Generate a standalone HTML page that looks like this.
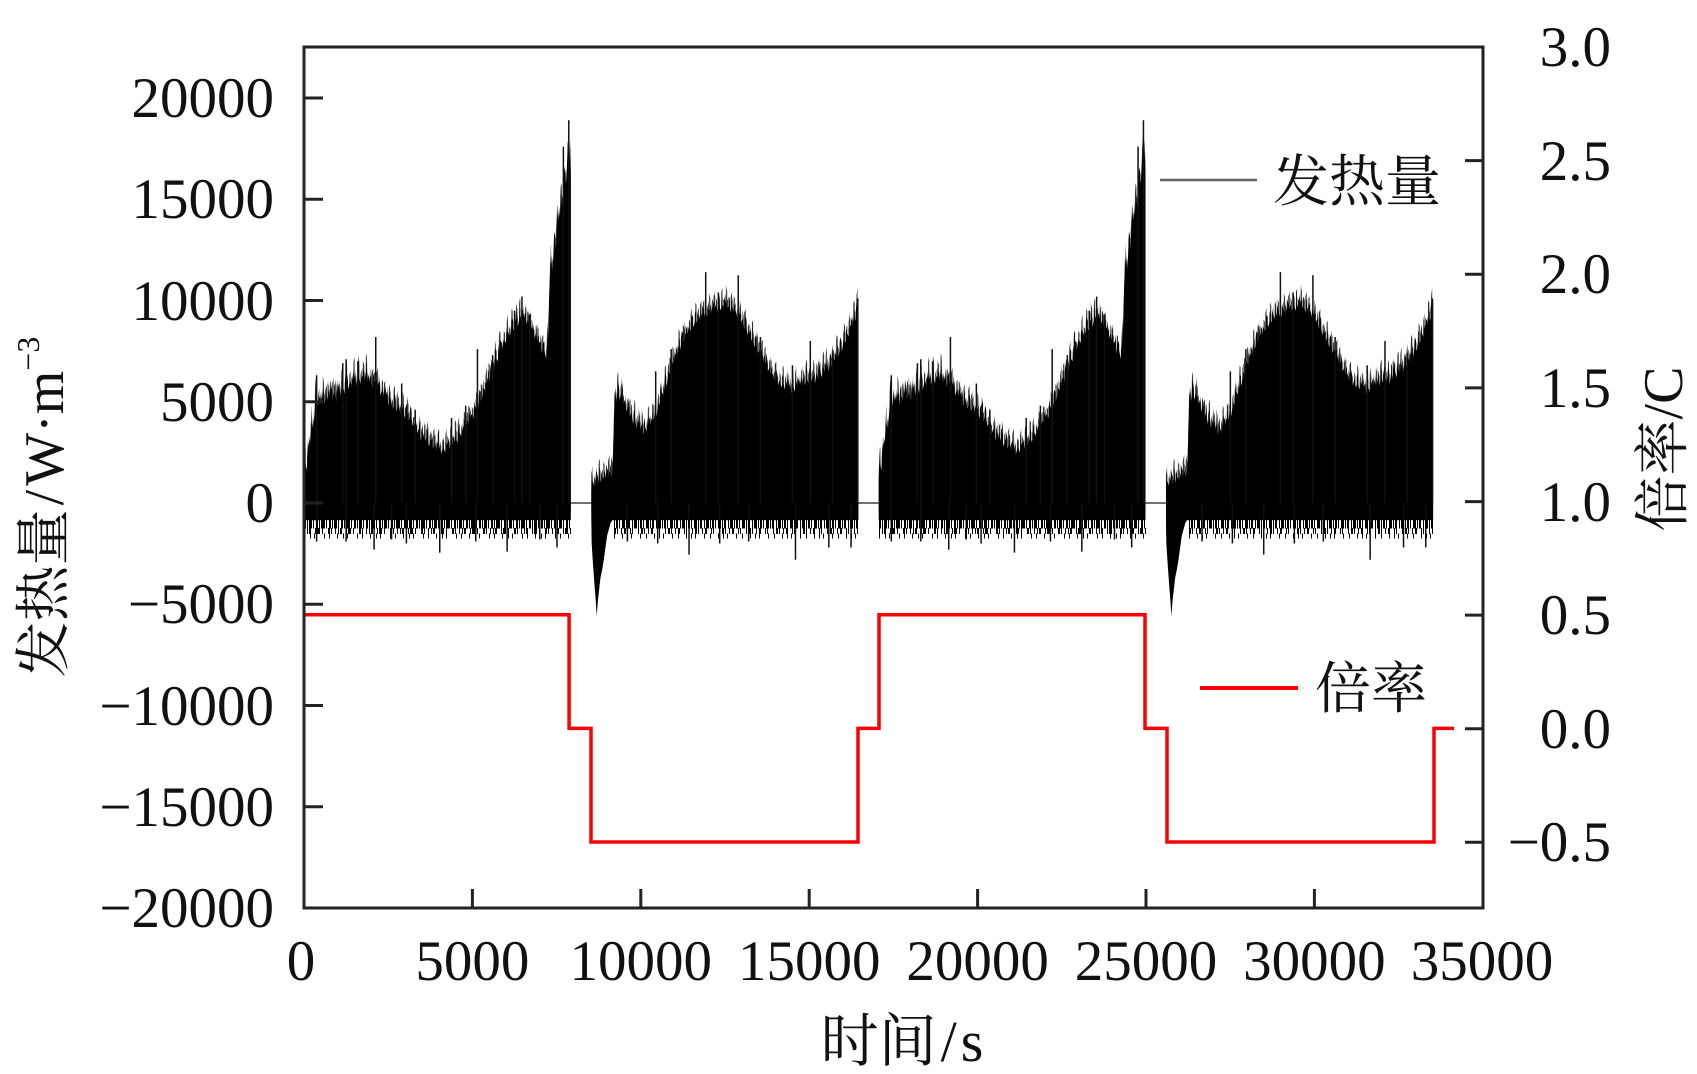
<!DOCTYPE html>
<html>
<head>
<meta charset="utf-8">
<style>
html,body{margin:0;padding:0;background:#fff;}
svg{display:block;}
text{font-family:"Liberation Serif","Noto Serif CJK SC","Noto Sans CJK SC",serif;fill:#111;}
</style>
</head>
<body>
<svg width="1697" height="1074" viewBox="0 0 1697 1074" xmlns="http://www.w3.org/2000/svg">
<defs>
  <polygon id="p1" points="0,-850 0,1200 40,2000 80,1600 130,3000 180,2600 230,4000 280,3600 330,5000 375,5700 410,4800 460,5300 510,4700 560,5500 610,4900 660,5400 720,5000 780,5700 840,5100 900,5500 960,5000 1020,5900 1080,5300 1140,6000 1200,5400 1250,6300 1310,5600 1370,6100 1430,5700 1490,6400 1550,5800 1610,6500 1670,5900 1730,6300 1790,6000 1850,6600 1910,5800 1970,6300 2030,5700 2090,6100 2150,5600 2210,6000 2270,5300 2330,5700 2390,5100 2450,5500 2510,4800 2570,5200 2630,4600 2690,5000 2750,4500 2810,4900 2870,4300 2930,4700 2990,4200 3050,4500 3110,4000 3170,4400 3230,3800 3290,3900 3350,3400 3410,3700 3470,3100 3530,3500 3590,3000 3650,3300 3710,2800 3770,3200 3830,2700 3890,3000 3950,2500 4010,2900 4070,2400 4130,2800 4190,2500 4250,3000 4310,2600 4370,3100 4430,2800 4490,3300 4550,3000 4610,3500 4670,3300 4730,3800 4790,3600 4850,4100 4910,3900 4970,4400 5030,4200 5090,4800 5150,4500 5210,5200 5270,5000 5330,5700 5390,5500 5450,6200 5510,6000 5570,6700 5630,6500 5690,7200 5750,7000 5810,7700 5870,7500 5930,8100 5990,7900 6050,8500 6110,8200 6170,8800 6230,8500 6290,9100 6350,8700 6410,9300 6470,9000 6530,9400 6590,8800 6650,9100 6710,8500 6770,8700 6830,8100 6890,8400 6950,7800 7010,8000 7070,7400 7130,7600 7190,7100 7250,8300 7290,10500 7330,12000 7380,11500 7430,13000 7480,12600 7530,14300 7580,13800 7630,15000 7680,14600 7730,16200 7780,15800 7830,17500 7870,16800 7900,17500 7920,16000 7920,-850"/>
  <polygon id="p3" points="8530,-850 8530,600 8570,1100 8620,800 8670,1300 8720,900 8770,1400 8820,1000 8870,1300 8920,1100 8970,1500 9020,1200 9070,1600 9120,1300 9170,1700 9200,4000 9220,5500 9270,5000 9320,5700 9370,5100 9420,5500 9470,4800 9520,5100 9570,4500 9620,4800 9670,4200 9720,4500 9770,3900 9820,4300 9870,3700 9920,4100 9970,3500 10020,3900 10070,3400 10120,3800 10170,3500 10220,4000 10270,3700 10320,4200 10370,4000 10420,4500 10470,4300 10520,5000 10570,4800 10620,5500 10670,5300 10720,6000 10770,5800 10820,6500 10870,6300 10920,7000 10970,6800 11020,7400 11070,7200 11120,7800 11170,7600 11220,8100 11270,7900 11320,8400 11370,8200 11420,8700 11470,8500 11520,8900 11570,8700 11620,9100 11670,8900 11720,9300 11770,9000 11820,9400 11870,9100 11920,9500 11970,9200 12020,9600 12070,9300 12120,9700 12170,9400 12220,9800 12270,9500 12320,9900 12370,9500 12420,9800 12470,9600 12520,10000 12570,9600 12620,9800 12670,9400 12720,9700 12770,9300 12820,9500 12870,9100 12920,9400 12970,8900 13020,9100 13070,8600 13120,8800 13170,8300 13220,8500 13270,8000 13320,8200 13370,7700 13420,7900 13470,7400 13520,7600 13570,7100 13620,7300 13670,6800 13720,7000 13770,6500 13820,6700 13870,6200 13920,6400 13970,6000 14020,6200 14070,5800 14120,6100 14170,5700 14220,6000 14270,5600 14320,6000 14370,5500 14420,5900 14470,5400 14520,5800 14570,5500 14620,6000 14670,5600 14720,6100 14770,5700 14820,6200 14870,5800 14920,6300 14970,5900 15020,6400 15070,6000 15120,6300 15170,5900 15220,6500 15270,6100 15320,6600 15370,6200 15420,6700 15470,6400 15520,6900 15570,6500 15620,7000 15670,6700 15720,7200 15770,6900 15820,7500 15870,7200 15920,7800 15970,7500 16020,8100 16070,7900 16120,8400 16170,8200 16220,8800 16270,8600 16320,9200 16370,9000 16420,9700 16460,9900 16460,-850 9150,-850 9100,-1000 9050,-1300 9000,-1600 8950,-2200 8900,-2800 8850,-3300 8800,-3700 8760,-4300 8720,-4900 8690,-5600 8660,-4800 8630,-4200 8600,-3500 8570,-2800 8540,-2000"/>
  <pattern id="st1" patternUnits="userSpaceOnUse" x="0" y="-50000" width="630" height="100000">
    <rect x="0" y="0" width="45" height="100000" fill="#000"/>
    <rect x="90" y="0" width="30" height="100000" fill="#000"/>
    <rect x="150" y="0" width="60" height="100000" fill="#000"/>
    <rect x="260" y="0" width="30" height="100000" fill="#000"/>
    <rect x="330" y="0" width="45" height="100000" fill="#000"/>
    <rect x="420" y="0" width="30" height="100000" fill="#000"/>
    <rect x="480" y="0" width="60" height="100000" fill="#000"/>
    <rect x="580" y="0" width="30" height="100000" fill="#000"/>
  </pattern>
  <pattern id="st2" patternUnits="userSpaceOnUse" x="0" y="-50000" width="910" height="100000">
    <rect x="20" y="0" width="30" height="100000" fill="#111"/>
    <rect x="200" y="0" width="30" height="100000" fill="#111"/>
    <rect x="330" y="0" width="40" height="100000" fill="#111"/>
    <rect x="560" y="0" width="30" height="100000" fill="#111"/>
    <rect x="700" y="0" width="30" height="100000" fill="#111"/>
    <rect x="840" y="0" width="35" height="100000" fill="#111"/>
  </pattern>
  <path id="sp1" fill="none" stroke="#111" stroke-width="1.5" vector-effect="non-scaling-stroke" d="M375,0V6300M1150,0V6900M1250,0V7100M1600,0V7000M2130,0V8200M2900,0V5900M3300,0V4600M4380,0V4200M4800,0V4800M5150,0V7600M5600,0V7300M6250,0V9500M6470,0V10200M6700,0V9300M7700,0V17600M7860,0V18900M375,0V-1900M1250,0V-1900M2080,0V-2300M3040,0V-2000M4030,0V-2450M6030,0V-2400M7510,0V-2200M2600,0V-1800M5100,0V-1900M7000,0V-1800"/>
  <path id="sp3" fill="none" stroke="#111" stroke-width="1.5" vector-effect="non-scaling-stroke" d="M10440,0V6500M10900,0V7600M11925,0V11400M12300,0V10400M12890,0V11250M13550,0V8200M14500,0V6800M15030,0V8000M15690,0V7400M16440,0V10100M9600,0V-1900M10500,0V-2000M11430,0V-2550M12340,0V-2000M13200,0V-1900M14590,0V-2800M15580,0V-2200M16240,0V-2200"/>
</defs>
<rect x="0" y="0" width="1697" height="1074" fill="#fff"/>

<!-- zero line -->
<line x1="304" y1="503" x2="1433" y2="503" stroke="#444" stroke-width="1.5"/>

<!-- heat series (data coords) -->
<g transform="translate(304,503) scale(0.033686,-0.020250)">
  <g fill="url(#st2)">
    <use href="#p1" transform="translate(0,800)"/>
    <use href="#p3" transform="translate(0,800)"/>
    <use href="#p1" transform="translate(17060,800)"/>
    <use href="#p3" transform="translate(17060,800)"/>
  </g>
  <g fill="url(#st1)">
    <use href="#p1" transform="translate(0,400)"/>
    <use href="#p3" transform="translate(0,400)"/>
    <use href="#p1" transform="translate(17060,400)"/>
    <use href="#p3" transform="translate(17060,400)"/>
  </g>
  <g fill="#000">
    <use href="#p1"/>
    <use href="#p3"/>
    <use href="#p1" transform="translate(17060,0)"/>
    <use href="#p3" transform="translate(17060,0)"/>
  </g>
  <use href="#sp1"/>
  <use href="#sp3"/>
  <use href="#sp1" transform="translate(17060,0)"/>
  <use href="#sp3" transform="translate(17060,0)"/>
</g>

<!-- lower fringe combs -->
<g stroke="#000">
  <line x1="304" y1="524" x2="571" y2="524" stroke-width="9" stroke-dasharray="2 1 1 1 3 1 1 2 2 1 1 1 4 1 1 2"/>
  <line x1="304" y1="531" x2="571" y2="531" stroke-width="6" stroke-dasharray="1 2 1 1 2 4 1 1 3 2 1 5 2 1 1 3"/>
  <line x1="304" y1="536" x2="571" y2="536" stroke-width="5" stroke-dasharray="1 5 1 3 1 9 1 4 1 7"/>
  <line x1="614" y1="524" x2="858" y2="524" stroke-width="9" stroke-dasharray="1 1 2 1 1 2 3 1 1 1 2 2 1 1 3 1"/>
  <line x1="614" y1="531" x2="858" y2="531" stroke-width="6" stroke-dasharray="2 1 1 3 1 2 2 4 1 1 1 5 1 2"/>
  <line x1="614" y1="536" x2="858" y2="536" stroke-width="5" stroke-dasharray="1 7 1 4 1 3 1 8 1 5"/>
  <line x1="879" y1="524" x2="1146" y2="524" stroke-width="9" stroke-dasharray="2 1 1 1 3 1 1 2 2 1 1 1 4 1 1 2"/>
  <line x1="879" y1="531" x2="1146" y2="531" stroke-width="6" stroke-dasharray="1 2 1 1 2 4 1 1 3 2 1 5 2 1 1 3"/>
  <line x1="879" y1="536" x2="1146" y2="536" stroke-width="5" stroke-dasharray="1 5 1 3 1 9 1 4 1 7"/>
  <line x1="1189" y1="524" x2="1433" y2="524" stroke-width="9" stroke-dasharray="1 1 2 1 1 2 3 1 1 1 2 2 1 1 3 1"/>
  <line x1="1189" y1="531" x2="1433" y2="531" stroke-width="6" stroke-dasharray="2 1 1 3 1 2 2 4 1 1 1 5 1 2"/>
  <line x1="1189" y1="536" x2="1433" y2="536" stroke-width="5" stroke-dasharray="1 7 1 4 1 3 1 8 1 5"/>
</g>

<!-- rate series -->
<polyline fill="none" stroke="#ff0000" stroke-width="3.5" stroke-linejoin="miter"
  points="304,614.8 569.1,614.8 569.1,728.4 591,728.4 591,842 858,842 858,728.4 879,728.4 879,614.8 1145,614.8 1145,728.4 1167,728.4 1167,842 1434,842 1434,728.4 1454,728.4"/>

<!-- frame -->
<rect x="304" y="47" width="1179" height="861" fill="none" stroke="#222" stroke-width="3"/>

<!-- ticks -->
<g stroke="#222" stroke-width="3">
  <line x1="304" y1="98" x2="323" y2="98"/>
  <line x1="304" y1="199.25" x2="323" y2="199.25"/>
  <line x1="304" y1="300.5" x2="323" y2="300.5"/>
  <line x1="304" y1="401.75" x2="323" y2="401.75"/>
  <line x1="304" y1="503" x2="323" y2="503"/>
  <line x1="304" y1="604.25" x2="323" y2="604.25"/>
  <line x1="304" y1="705.5" x2="323" y2="705.5"/>
  <line x1="304" y1="806.75" x2="323" y2="806.75"/>

  <line x1="1465" y1="160.6" x2="1483" y2="160.6"/>
  <line x1="1465" y1="274.3" x2="1483" y2="274.3"/>
  <line x1="1465" y1="387.9" x2="1483" y2="387.9"/>
  <line x1="1465" y1="501.6" x2="1483" y2="501.6"/>
  <line x1="1465" y1="615.1" x2="1483" y2="615.1"/>
  <line x1="1465" y1="728.7" x2="1483" y2="728.7"/>
  <line x1="1465" y1="842.3" x2="1483" y2="842.3"/>

  <line x1="472.4" y1="908" x2="472.4" y2="889"/>
  <line x1="640.8" y1="908" x2="640.8" y2="889"/>
  <line x1="809.2" y1="908" x2="809.2" y2="889"/>
  <line x1="977.6" y1="908" x2="977.6" y2="889"/>
  <line x1="1146" y1="908" x2="1146" y2="889"/>
  <line x1="1314.4" y1="908" x2="1314.4" y2="889"/>
</g>

<!-- left tick labels -->
<g font-size="57" text-anchor="end">
  <text x="274" y="117">20000</text>
  <text x="274" y="218">15000</text>
  <text x="274" y="320">10000</text>
  <text x="274" y="421">5000</text>
  <text x="274" y="522">0</text>
  <text x="274" y="623">−5000</text>
  <text x="274" y="725">−10000</text>
  <text x="274" y="826">−15000</text>
  <text x="274" y="927">−20000</text>
</g>

<!-- right tick labels -->
<g font-size="57" text-anchor="end">
  <text x="1611" y="66">3.0</text>
  <text x="1611" y="180">2.5</text>
  <text x="1611" y="293">2.0</text>
  <text x="1611" y="407">1.5</text>
  <text x="1611" y="521">1.0</text>
  <text x="1611" y="634">0.5</text>
  <text x="1611" y="748">0.0</text>
  <text x="1611" y="861">−0.5</text>
</g>

<!-- bottom tick labels -->
<g font-size="57" text-anchor="middle">
  <text x="301" y="980">0</text>
  <text x="472.4" y="980">5000</text>
  <text x="640.8" y="980">10000</text>
  <text x="809.2" y="980">15000</text>
  <text x="977.6" y="980">20000</text>
  <text x="1146" y="980">25000</text>
  <text x="1314.4" y="980">30000</text>
  <text x="1482" y="980">35000</text>
</g>

<!-- axis titles -->
<text x="902" y="1061" font-size="58" text-anchor="middle">时间<tspan dx="4">/</tspan><tspan dx="4">s</tspan></text>
<text transform="translate(63,507) rotate(-90)" font-size="56" text-anchor="middle">发热量<tspan dx="4">/</tspan><tspan dx="4">W·m</tspan><tspan dy="-24" font-size="32">−3</tspan></text>
<text transform="translate(1682,449) rotate(-90)" font-size="56" text-anchor="middle">倍率/C</text>

<!-- legend -->
<line x1="1160" y1="180" x2="1257" y2="180" stroke="#666" stroke-width="2.5"/>
<text x="1273" y="201" font-size="56">发热量</text>
<line x1="1200" y1="688" x2="1298" y2="688" stroke="#ff0000" stroke-width="4"/>
<text x="1315" y="708" font-size="56">倍率</text>
</svg>
</body>
</html>
